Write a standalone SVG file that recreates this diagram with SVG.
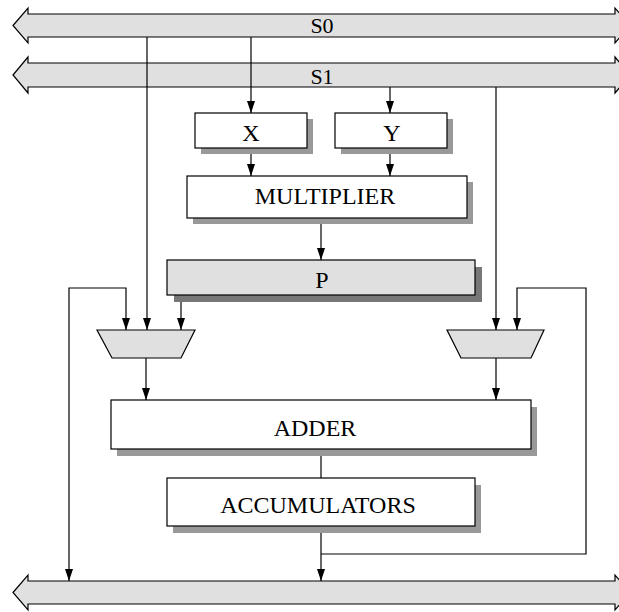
<svg xmlns="http://www.w3.org/2000/svg" width="619" height="612" viewBox="0 0 619 612">
<defs>
<style>
.bus{fill:#e0e0e0;stroke:#000;stroke-width:1.2}
.box{fill:#fff;stroke:#000;stroke-width:1.2}
.reg{fill:#e0e0e0;stroke:#000;stroke-width:1.2}
.sh{fill:#999}
.shd{fill:#777}
.mux{fill:#e0e0e0;stroke:#000;stroke-width:1.2}
.c{fill:none;stroke:#000;stroke-width:1.2}
.t{font-family:"Liberation Serif","Times New Roman",serif;font-size:24px;fill:#000;text-anchor:middle}
.tb{font-family:"Liberation Serif","Times New Roman",serif;font-size:22px;fill:#000;text-anchor:middle}
</style>
<marker id="ah" viewBox="0 0 12 8" refX="12" refY="4" markerWidth="12" markerHeight="8" markerUnits="userSpaceOnUse" orient="auto-start-reverse">
<path d="M0,0 L12,4 L0,8 Z" fill="#000"/>
</marker>
</defs>

<g id="bus-s0">
<polygon class="bus" points="13,25.5 28,8 28,14 615,14 615,8 630,25.5 615,43 615,37 28,37 28,43"/>
<text class="tb" x="322" y="33">S0</text>
</g>
<g id="bus-s1">
<polygon class="bus" points="13,75 28,57 28,63 615,63 615,57 630,75 615,93 615,87 28,87 28,93"/>
<text class="tb" x="322" y="84">S1</text>
</g>
<g id="bus-out">
<polygon class="bus" points="13,592.5 28,575 28,581 615,581 615,575 630,592.5 615,610 615,604 28,604 28,610"/>
</g>

<g id="connectors">
<line class="c" x1="251" y1="37" x2="251" y2="113" marker-end="url(#ah)"/>
<line class="c" x1="147" y1="37" x2="147" y2="330" marker-end="url(#ah)"/>
<line class="c" x1="390" y1="87" x2="390" y2="113" marker-end="url(#ah)"/>
<line class="c" x1="496" y1="87" x2="496" y2="330" marker-end="url(#ah)"/>
<line class="c" x1="251" y1="148" x2="251" y2="176" marker-end="url(#ah)"/>
<line class="c" x1="390" y1="148" x2="390" y2="176" marker-end="url(#ah)"/>
<line class="c" x1="321" y1="218" x2="321" y2="260" marker-end="url(#ah)"/>
<line class="c" x1="181" y1="295" x2="181" y2="330" marker-end="url(#ah)"/>
<polyline class="c" points="69,581 69,288 126,288 126,330" marker-start="url(#ah)" marker-end="url(#ah)"/>
<line class="c" x1="146" y1="358" x2="146" y2="400" marker-end="url(#ah)"/>
<line class="c" x1="496" y1="358" x2="496" y2="400" marker-end="url(#ah)"/>
<line class="c" x1="321" y1="449" x2="321" y2="478"/>
<line class="c" x1="321" y1="526" x2="321" y2="581" marker-end="url(#ah)"/>
<polyline class="c" points="321,554 586,554 586,288 517,288 517,330" marker-end="url(#ah)"/>
</g>

<g id="node-x">
<rect class="sh" x="201" y="119" width="112" height="35"/>
<rect class="box" x="195" y="113" width="112" height="35"/>
<text class="t" x="251" y="141">X</text>
</g>
<g id="node-y">
<rect class="sh" x="341" y="119" width="112" height="35"/>
<rect class="box" x="335" y="113" width="112" height="35"/>
<text class="t" x="392" y="141">Y</text>
</g>
<g id="node-multiplier">
<rect class="sh" x="193" y="182" width="280" height="42"/>
<rect class="box" x="187" y="176" width="280" height="42"/>
<text class="t" x="325" y="204">MULTIPLIER</text>
</g>
<g id="node-p">
<rect class="shd" x="174" y="267" width="308" height="35"/>
<rect class="reg" x="167" y="260" width="308" height="35"/>
<text class="t" x="322" y="288">P</text>
</g>
<g id="node-mux-left">
<polygon class="mux" points="97,330 195,330 181,358 112,358"/>
</g>
<g id="node-mux-right">
<polygon class="mux" points="447,330 544,330 531,358 461,358"/>
</g>
<g id="node-adder">
<rect class="sh" x="117" y="407" width="420" height="49"/>
<rect class="box" x="111" y="400" width="420" height="49"/>
<text class="t" x="315" y="436">ADDER</text>
</g>
<g id="node-accumulators">
<rect class="sh" x="173" y="485" width="308" height="48"/>
<rect class="box" x="167" y="478" width="308" height="48"/>
<text class="t" x="318" y="513">ACCUMULATORS</text>
</g>
</svg>
